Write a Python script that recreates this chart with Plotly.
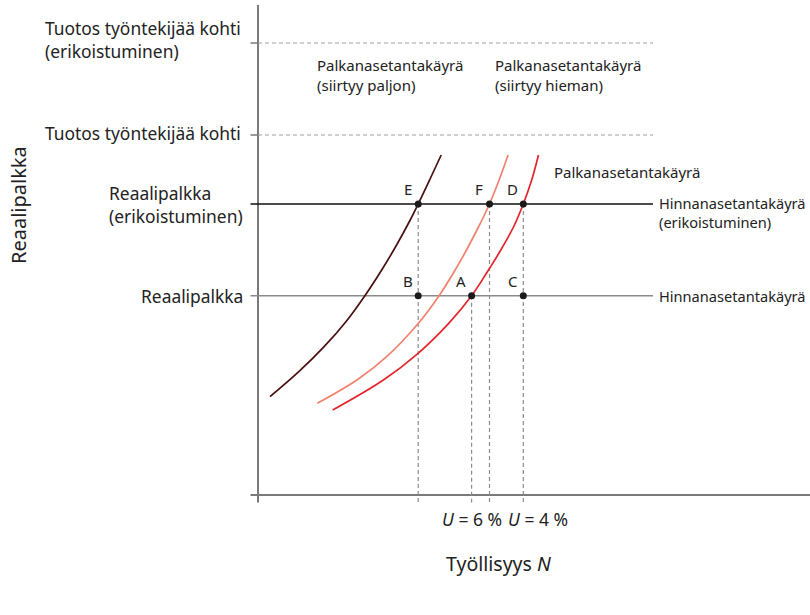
import plotly.graph_objects as go

# ---------------- data (model units) ----------------
# wage-setting curves
ws_far_x = [1.20, 4.08, 6.61, 8.79, 10.69, 12.37, 13.86, 15.22, 16.02, 17.16, 18.32]
ws_far_y = [9.83, 12.33, 14.83, 17.33, 19.93, 22.50, 25.00, 27.50, 29.10, 31.50, 34.00]
ws_near_x = [5.93, 9.89, 12.87, 16.04, 18.11, 19.54, 20.85, 22.05, 23.15, 24.11, 25.01]
ws_near_y = [9.17, 11.50, 13.83, 17.17, 19.93, 22.20, 24.50, 26.80, 29.10, 31.50, 34.00]
ws_x = [7.47, 12.54, 16.01, 19.07, 21.36, 22.86, 24.28, 25.55, 26.53, 27.37, 28.05]
ws_y = [8.50, 11.50, 14.17, 17.17, 19.93, 22.20, 24.50, 26.80, 29.10, 31.50, 34.00]

# levels
wage = 19.93
wage_spec = 29.1
output = 36.0
output_spec = 45.2

# equilibrium / reference points
point_names = ["E", "F", "D", "B", "A", "C"]
point_x = [16.02, 23.15, 26.53, 16.02, 21.36, 26.53]
point_y = [wage_spec, wage_spec, wage_spec, wage, wage, wage]

FONT = "Noto Sans"
TXT = "#222222"
GREY = "#8a8a8a"
AXIS = "#7a7a7a"
X_END = 39.5   # end of the horizontal lines
X_MIN, X_MAX = -25.8, 55.2
Y_MIN, Y_MAX = -12.0, 49.5
TICK = 0.75

fig = go.Figure()

def line(x, y, color, width, dash="solid", shape="linear"):
    fig.add_trace(go.Scatter(x=x, y=y, mode="lines", hoverinfo="skip",
                             line=dict(color=color, width=width, dash=dash, shape=shape,
                                       smoothing=1.0),
                             showlegend=False))

# axes
line([0, 0], [-TICK, 49.0], AXIS, 2)
line([-TICK, X_MAX], [0, 0], AXIS, 2)

# output per worker dashed lines with small ticks
for lvl in [output, output_spec]:
    line([-TICK, 0], [lvl, lvl], AXIS, 1.5)
    line([0, X_END], [lvl, lvl], "#a0a0a0", 1.2, dash="4px,3px")

# price-setting lines
line([-TICK, X_END], [wage, wage], GREY, 1.6)
line([-TICK, X_END], [wage_spec, wage_spec], "#111111", 1.6)

# vertical dashed drop lines
for px, py in [(point_x[0], wage_spec), (point_x[4], wage), (point_x[1], wage_spec), (point_x[2], wage_spec)]:
    line([px, px], [py, -TICK], "#8c8c8c", 1.2, dash="4px,3px")

# wage-setting curves
line(ws_far_x, ws_far_y, "#4a1010", 1.7, shape="spline")
line(ws_near_x, ws_near_y, "#f0826e", 1.7, shape="spline")
line(ws_x, ws_y, "#e3242b", 1.7, shape="spline")

# points
fig.add_trace(go.Scatter(x=point_x, y=point_y, mode="markers", hoverinfo="skip",
                         marker=dict(color="#1a1a1a", size=7), showlegend=False))

def ann(x, y, text, xanchor="left", yanchor="middle", align="left", size=15,
        xshift=0, yshift=0, angle=0):
    fig.add_annotation(x=x, y=y, xref="x", yref="y", text=text, showarrow=False,
                       xanchor=xanchor, yanchor=yanchor, align=align,
                       xshift=xshift, yshift=yshift, textangle=angle,
                       font=dict(family=FONT, size=size, color=TXT))

LEFT = 17.4
# left labels
ann(-1.5, 45.6, "Tuotos työntekijää kohti<br>(erikoistuminen)", xanchor="right", size=LEFT)
ann(-1.5, 36.2, "Tuotos työntekijää kohti", xanchor="right", size=LEFT)
ann(-1.3, wage_spec, "Reaalipalkka<br>(erikoistuminen)", xanchor="right", size=LEFT)
ann(-1.3, wage, "Reaalipalkka", xanchor="right", size=LEFT)

# curve labels
ann(5.7, 42.0, "Palkanasetantakäyrä<br>(siirtyy paljon)")
ann(23.5, 42.0, "Palkanasetantakäyrä<br>(siirtyy hieman)")
ann(29.4, 32.3, "Palkanasetantakäyrä")
ann(39.9, 28.25, "Hinnanasetantakäyrä<br>(erikoistuminen)", size=14.6)
ann(39.9, wage, "Hinnanasetantakäyrä", size=14.6)

# point labels
for n, x, y in zip(point_names, point_x, point_y):
    ann(x, y, n, xanchor="center", xshift=-10.5, yshift=15)

# x tick labels and axis titles
ann(point_x[4], 0, "<i>U</i> = 6 %", xanchor="center", yshift=-24, size=17.5)
ann(27.95, 0, "<i>U</i> = 4 %", xanchor="center", yshift=-24, size=17.5)
ann(24.0, 0, "Työllisyys <i>N</i>", xanchor="center", yshift=-68, size=19.5)
ann(-24.0, 29.0, "Reaalipalkka", xanchor="center", angle=-90, size=20)

fig.update_layout(
    width=810, height=615,
    margin=dict(l=0, r=0, t=0, b=0),
    paper_bgcolor="white", plot_bgcolor="white",
    xaxis=dict(range=[X_MIN, X_MAX], visible=False, fixedrange=True),
    yaxis=dict(range=[Y_MIN, Y_MAX], visible=False, fixedrange=True),
    showlegend=False,
)

fig.write_html(
    "out.html",
    config={"displayModeBar": False, "staticPlot": True},
    post_script="document.body.style.margin='0';document.body.style.overflow='hidden';"
                "document.documentElement.style.overflow='hidden';",
)
